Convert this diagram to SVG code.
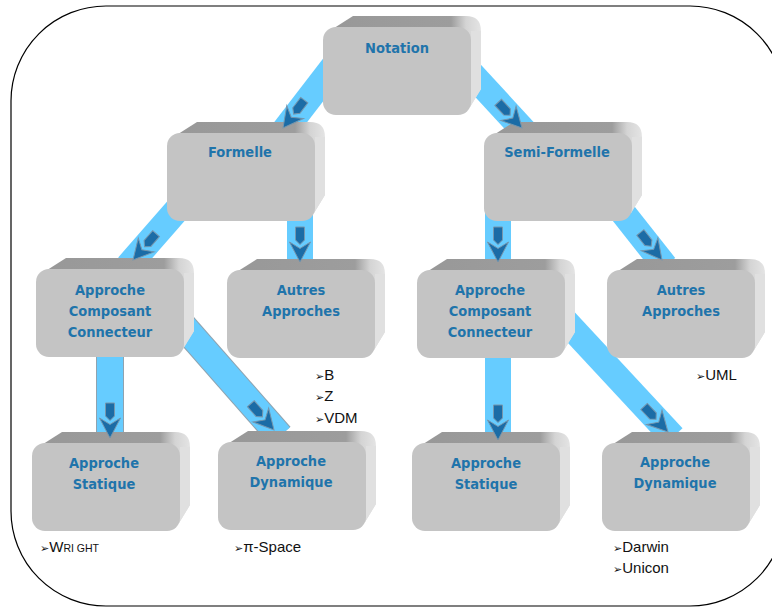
<svg xmlns="http://www.w3.org/2000/svg" xmlns:xlink="http://www.w3.org/1999/xlink" width="772" height="608" viewBox="0 0 772 608">
<style>
.lbl{font-family:"DejaVu Sans Condensed","DejaVu Sans",sans-serif;font-stretch:condensed;font-weight:bold;font-size:14.5px;fill:#1f74ab;text-anchor:middle}
.note{font-family:"Liberation Sans",Arial,sans-serif;font-size:15px;fill:#111}
.bul{font-family:"DejaVu Sans",sans-serif;font-size:11px;fill:#111}
.band{stroke:#66ccff;stroke-width:26;fill:none}
.bandOut{stroke:#8fa3b0;stroke-width:28;fill:none}
.head{fill:#1b6ca6;stroke:#7696ad;stroke-width:1}
</style>
<defs>
<linearGradient id="backG" x1="0" y1="0" x2="1" y2="0">
<stop offset="0" stop-color="#989898"/>
<stop offset="0.8" stop-color="#9d9d9d"/>
<stop offset="0.9" stop-color="#d4d4d4"/>
<stop offset="1" stop-color="#e4e4e4"/>
</linearGradient>
<g id="box">
<path d="M8,3 L30,-11 L143,-11 Q158,-11 158,4 L158,62 L147,80 Z" fill="url(#backG)"/>
<path d="M148,4 L158,4 L158,62 L147,80 Z" fill="#e0e0e0"/>
<rect x="0" y="0" width="148" height="88" rx="13" fill="#c4c4c4"/>
</g>
<g id="arrowhead">
<polygon points="-4.5,-35 4.5,-35 4.5,-22 0,-17.5 -4.5,-22"/>
<polygon points="-10.5,-20 0,-13.5 10.5,-20 0,0"/>
</g>
</defs>
<rect x="11" y="6" width="774" height="600" rx="95" fill="#fff" stroke="#000" stroke-width="1.2"/>
<g id="connectors">
<line class="band" x1="350" y1="45" x2="280" y2="136"/>
<line class="band" x1="445" y1="45" x2="527" y2="134"/>
<line class="band" x1="190" y1="195" x2="128" y2="266"/>
<line class="band" x1="300" y1="210" x2="300" y2="268"/>
<line class="band" x1="498" y1="210" x2="498" y2="268"/>
<line class="band" x1="605" y1="190" x2="665" y2="266"/>
<line class="bandOut" x1="110" y1="350" x2="110" y2="440"/>
<line class="band" x1="110" y1="350" x2="110" y2="440"/>
<line class="bandOut" x1="178" y1="320" x2="280" y2="436"/>
<line class="band" x1="178" y1="320" x2="280" y2="436"/>
<line class="band" x1="498" y1="350" x2="498" y2="440"/>
<line class="band" x1="555" y1="310" x2="673" y2="437"/>
</g>
<g id="node-notation" transform="translate(323,27)"><use xlink:href="#box"/><text class="lbl" x="74" y="26">Notation</text></g>
<g id="node-formelle" transform="translate(167,133)"><use xlink:href="#box"/><text class="lbl" x="73" y="24">Formelle</text></g>
<g id="node-semiformelle" transform="translate(484,133)"><use xlink:href="#box"/><text class="lbl" x="73" y="24">Semi-Formelle</text></g>
<g id="node-acc-left" transform="translate(36,269)"><use xlink:href="#box"/><text class="lbl" x="74" y="26">Approche<tspan x="74" dy="21">Composant</tspan><tspan x="74" dy="21">Connecteur</tspan></text></g>
<g id="node-autres-left" transform="translate(227,270)"><use xlink:href="#box"/><text class="lbl" x="74" y="25">Autres<tspan x="74" dy="21">Approches</tspan></text></g>
<g id="node-acc-right" transform="translate(417,270)"><use xlink:href="#box"/><text class="lbl" x="73" y="25">Approche<tspan x="73" dy="21">Composant</tspan><tspan x="73" dy="21">Connecteur</tspan></text></g>
<g id="node-autres-right" transform="translate(607,270)"><use xlink:href="#box"/><text class="lbl" x="74" y="25">Autres<tspan x="74" dy="21">Approches</tspan></text></g>
<g id="node-statique-left" transform="translate(32,443)"><use xlink:href="#box"/><text class="lbl" x="72" y="25">Approche<tspan x="72" dy="21">Statique</tspan></text></g>
<g id="node-dynamique-left" transform="translate(218,442)"><use xlink:href="#box"/><text class="lbl" x="73" y="24">Approche<tspan x="73" dy="21">Dynamique</tspan></text></g>
<g id="node-statique-right" transform="translate(412,443)"><use xlink:href="#box"/><text class="lbl" x="74" y="25">Approche<tspan x="74" dy="21">Statique</tspan></text></g>
<g id="node-dynamique-right" transform="translate(602,443)"><use xlink:href="#box"/><text class="lbl" x="73" y="24">Approche<tspan x="73" dy="21">Dynamique</tspan></text></g>
<g id="connector-arrows" class="head">
<use xlink:href="#arrowhead" transform="translate(283,128) rotate(37.4)"/>
<use xlink:href="#arrowhead" transform="translate(522,128) rotate(-42.9)"/>
<use xlink:href="#arrowhead" transform="translate(133,260) rotate(41.2)"/>
<use xlink:href="#arrowhead" transform="translate(300,262)"/>
<use xlink:href="#arrowhead" transform="translate(498,262)"/>
<use xlink:href="#arrowhead" transform="translate(662,260) rotate(-38.2)"/>
<use xlink:href="#arrowhead" transform="translate(110,438)"/>
<use xlink:href="#arrowhead" transform="translate(274,430) rotate(-41.4)"/>
<use xlink:href="#arrowhead" transform="translate(498,440)"/>
<use xlink:href="#arrowhead" transform="translate(668,432) rotate(-43.1)"/>
</g>
<g id="notes">
<text x="315" y="380"><tspan class="bul">➢</tspan><tspan class="note">B</tspan></text>
<text x="315" y="401"><tspan class="bul">➢</tspan><tspan class="note">Z</tspan></text>
<text x="315" y="423"><tspan class="bul">➢</tspan><tspan class="note">VDM</tspan></text>
<text x="696" y="380"><tspan class="bul">➢</tspan><tspan class="note">UML</tspan></text>
<text x="40" y="552"><tspan class="bul">➢</tspan><tspan class="note">W</tspan><tspan class="note" style="font-size:10.5px">RI GHT</tspan></text>
<text x="234" y="552"><tspan class="bul">➢</tspan><tspan class="note">π-Space</tspan></text>
<text x="613" y="552"><tspan class="bul">➢</tspan><tspan class="note">Darwin</tspan></text>
<text x="613" y="573"><tspan class="bul">➢</tspan><tspan class="note">Unicon</tspan></text>
</g>
</svg>
